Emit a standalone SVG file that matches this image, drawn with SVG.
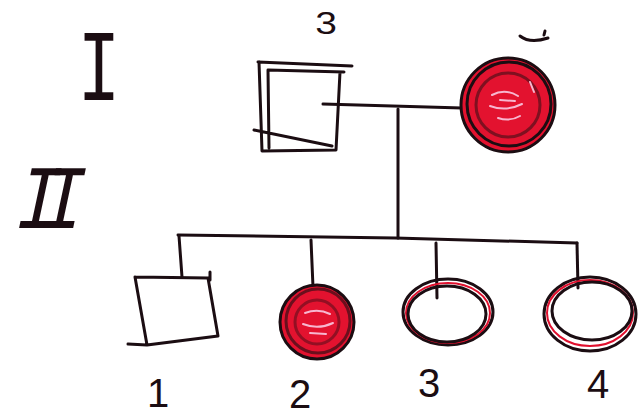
<svg xmlns="http://www.w3.org/2000/svg" width="638" height="417" viewBox="0 0 638 417">
  <style>
    .ink { fill: none; stroke: #1b0d12; stroke-width: 3; stroke-linecap: round; stroke-linejoin: round; }
    .red { fill: none; stroke: #e0102e; stroke-width: 2; }
    .fillred { fill: #e3122f; stroke: #1b0d12; stroke-width: 3; }
    .hl { fill: none; stroke: #f7b7d0; stroke-width: 2; stroke-linecap: round; }
    .num { font-family: "Liberation Mono", monospace; fill: #1b0d12; }
    .hand { font-family: "Liberation Sans", sans-serif; fill: #1b0d12; }
  </style>

  <!-- generation numerals -->
  <g id="gen-I">
    <text class="num" x="0" y="0" font-size="55" text-anchor="middle" transform="translate(99 100) scale(1.3 1.85)">I</text>
  </g>
  <g id="gen-II">
    <text class="num" x="0" y="0" font-size="55" text-anchor="middle" letter-spacing="-15" transform="translate(36 228) skewX(-12) scale(1.35 1.65)">II</text>
  </g>

  <!-- connectors -->
  <g id="connectors" class="ink">
    <path d="M323 104 L462 108"/>
    <path d="M398 109 L398 238"/>
    <path d="M178 235 L395 238 L577 243"/>
    <path d="M179 236 L182 277"/>
    <path d="M311 240 L313 287"/>
    <path d="M436 243 L437 298"/>
    <path d="M577 243 L578 288"/>
  </g>

  <!-- generation I -->
  <g id="I-1">
    <text class="hand" x="0" y="0" font-size="30" text-anchor="middle" transform="translate(326 34) scale(1.3 1.05)">3</text>
    <path class="ink" d="M258 62 L352 66 M268 70 L344 72 M259 62 L262 151 L336 150 L340 72 M268 70 L269 148 M254 130 L332 146"/>
  </g>
  <g id="I-2">
    <path class="ink" d="M520 36 Q530 44 548 38 M545 31 L544 35" stroke-width="2"/>
    <circle cx="508" cy="105" r="47" class="fillred"/>
    <circle cx="509" cy="104" r="42" class="ink" stroke-width="2"/>
    <circle cx="508" cy="105" r="32" class="ink" stroke-width="1.5" opacity="0.5"/>
    <path class="hl" d="M492 95 Q505 88 518 96 M490 106 Q506 112 522 104 M498 118 Q510 122 520 116 M500 100 L515 101 M530 82 L534 92"/>
  </g>

  <!-- generation II -->
  <g id="II-1">
    <path class="ink" d="M135 277 L208 278 M208 278 L218 336 L147 345 L135 277 M128 344 L147 345 M210 272 L210 280"/>
    <text class="hand" x="158" y="407" font-size="40" text-anchor="middle">1</text>
  </g>
  <g id="II-2">
    <circle cx="317" cy="322" r="37" class="fillred"/>
    <circle cx="318" cy="321" r="32" class="ink" stroke-width="1.5" opacity="0.6"/>
    <circle cx="317" cy="322" r="22" class="ink" stroke-width="1.5" opacity="0.4"/>
    <path class="hl" d="M305 313 Q318 308 330 314 M303 324 Q318 330 333 323 M310 333 L326 334"/>
    <text class="hand" x="300" y="408" font-size="40" text-anchor="middle">2</text>
  </g>
  <g id="II-3">
    <ellipse cx="448" cy="312" rx="45" ry="33" class="ink"/>
    <ellipse cx="448" cy="313" rx="42" ry="30" class="red" stroke-width="3"/>
    <ellipse cx="447" cy="314" rx="39" ry="28" class="ink" stroke-width="2"/>
    <text class="hand" x="429" y="397" font-size="40" text-anchor="middle">3</text>
  </g>
  <g id="II-4">
    <ellipse cx="590" cy="314" rx="46" ry="37" class="ink"/>
    <ellipse cx="590" cy="313" rx="43" ry="33" class="red" stroke-width="3"/>
    <ellipse cx="592" cy="311" rx="40" ry="29" class="ink" stroke-width="2"/>
    <text class="hand" x="598" y="398" font-size="40" text-anchor="middle">4</text>
  </g>
</svg>
